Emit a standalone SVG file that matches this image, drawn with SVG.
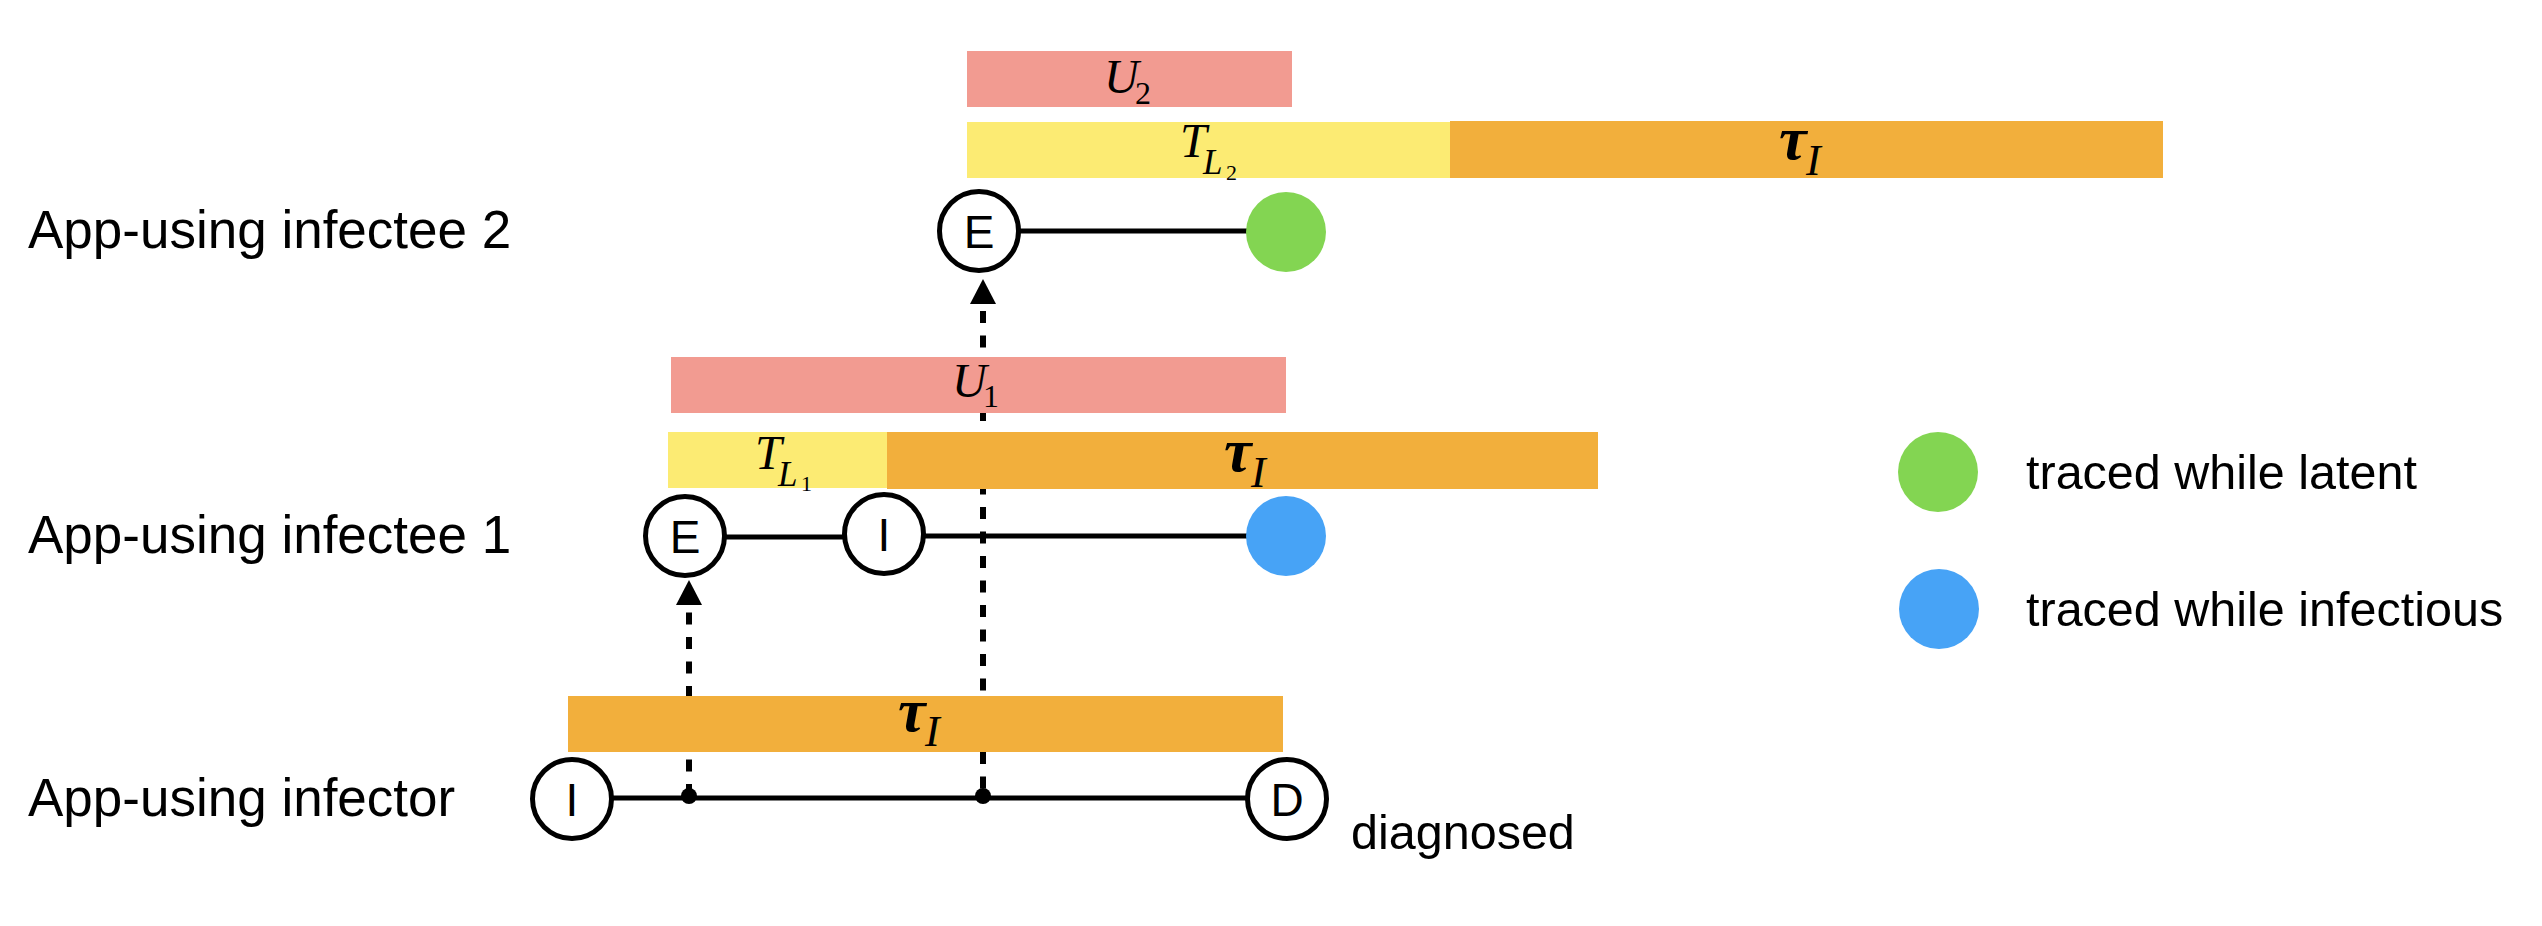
<svg xmlns="http://www.w3.org/2000/svg" width="2542" height="926" viewBox="0 0 2542 926">
<defs>
<style>
.lbl{font-family:"Liberation Sans",Arial,sans-serif;fill:#000}
.row{font-size:53px}
.leg{font-size:48.5px}
.st{fill:#fff;stroke:#000;stroke-width:5}
.let{font-family:"Liberation Sans",Arial,sans-serif;font-size:46px;text-anchor:middle;fill:#000}
.math{font-family:"Liberation Serif","Times New Roman",serif;font-style:italic;fill:#000}
.tau{font-weight:bold}
.up{font-style:normal}
.bar-u{fill:#F29B91}
.bar-t{fill:#FCEB73}
.bar-i{fill:#F2AF3C}
.solid{stroke:#000;stroke-width:5;fill:none}
.dash{stroke:#000;stroke-width:6;fill:none;stroke-dasharray:12 12.5}
.green{fill:#83D552}
.blue{fill:#47A3F6}
</style>
<marker id="arr" markerUnits="userSpaceOnUse" markerWidth="26" markerHeight="28" viewBox="0 -14 26 28" refX="25" refY="0" orient="auto">
<path d="M0,-13 L25,0 L0,13 z" fill="#000"/>
</marker>
</defs>
<rect width="2542" height="926" fill="#fff"/>

<g id="connectors">
<path class="dash" d="M689,796 L689,580" marker-end="url(#arr)"/>
<path class="dash" d="M983,796 L983,279" style="stroke-dashoffset:17" marker-end="url(#arr)"/>
<line class="solid" x1="1019" y1="231" x2="1250" y2="231"/>
<line class="solid" x1="723" y1="537" x2="846" y2="537"/>
<line class="solid" x1="922" y1="536" x2="1250" y2="536"/>
<line class="solid" x1="610" y1="798" x2="1250" y2="798"/>
</g>

<g id="bars">
<rect class="bar-u" x="967" y="51" width="325" height="56"/>
<rect class="bar-t" x="967" y="122" width="483" height="56"/>
<rect class="bar-i" x="1450" y="121" width="713" height="57"/>
<rect class="bar-u" x="671" y="357" width="615" height="56"/>
<rect class="bar-t" x="668" y="432" width="219" height="56"/>
<rect class="bar-i" x="887" y="432" width="711" height="57"/>
<rect class="bar-i" x="568" y="696" width="715" height="56"/>
</g>

<g id="math-labels">
<text class="math"><tspan x="1104" y="93" font-size="48">U</tspan><tspan class="up" x="1135" y="104" font-size="32">2</tspan></text>
<text class="math"><tspan x="1180" y="157" font-size="48">T</tspan><tspan x="1203" y="174" font-size="35">L</tspan><tspan class="up" x="1226" y="180" font-size="22">2</tspan></text>
<text class="math"><tspan class="tau" x="1779" y="159" font-size="62">τ</tspan><tspan x="1806" y="175" font-size="44">I</tspan></text>
<text class="math"><tspan x="952" y="397" font-size="48">U</tspan><tspan class="up" x="983" y="407" font-size="32">1</tspan></text>
<text class="math"><tspan x="755" y="469" font-size="48">T</tspan><tspan x="778" y="486" font-size="35">L</tspan><tspan class="up" x="801" y="491" font-size="22">1</tspan></text>
<text class="math"><tspan class="tau" x="1224" y="471" font-size="62">τ</tspan><tspan x="1251" y="487" font-size="44">I</tspan></text>
<text class="math"><tspan class="tau" x="898" y="731" font-size="62">τ</tspan><tspan x="925" y="746" font-size="44">I</tspan></text>
</g>

<g id="row-labels">
<text class="lbl row" x="28" y="248">App-using infectee 2</text>
<text class="lbl row" x="28" y="553">App-using infectee 1</text>
<text class="lbl row" x="28" y="816">App-using infector</text>
</g>

<g id="infectee2-E">
<circle class="st" cx="979" cy="231" r="39.5"/>
<text class="let" x="979" y="248">E</text>
</g>
<g id="infectee2-traced">
<circle class="green" cx="1286" cy="232" r="40"/>
</g>

<g id="infectee1-E">
<circle class="st" cx="685" cy="536" r="39.5"/>
<text class="let" x="685" y="553">E</text>
</g>
<g id="infectee1-I">
<circle class="st" cx="884" cy="534" r="39.5"/>
<text class="let" x="884" y="551">I</text>
</g>
<g id="infectee1-traced">
<circle class="blue" cx="1286" cy="536" r="40"/>
</g>

<g id="infector-I">
<circle class="st" cx="572" cy="799" r="39.5"/>
<text class="let" x="572" y="816">I</text>
</g>
<g id="infector-contact1">
<circle cx="689" cy="796" r="8" fill="#000"/>
</g>
<g id="infector-contact2">
<circle cx="983" cy="796" r="8" fill="#000"/>
</g>
<g id="infector-D">
<circle class="st" cx="1287" cy="799" r="39.5"/>
<text class="let" x="1287" y="816">D</text>
</g>
<g id="diagnosed-label">
<text class="lbl" x="1351" y="849" font-size="48.5">diagnosed</text>
</g>

<g id="legend-latent">
<circle class="green" cx="1938" cy="472" r="40"/>
<text class="lbl leg" x="2026" y="489">traced while latent</text>
</g>
<g id="legend-infectious">
<circle class="blue" cx="1939" cy="609" r="40"/>
<text class="lbl leg" x="2026" y="626">traced while infectious</text>
</g>
</svg>
